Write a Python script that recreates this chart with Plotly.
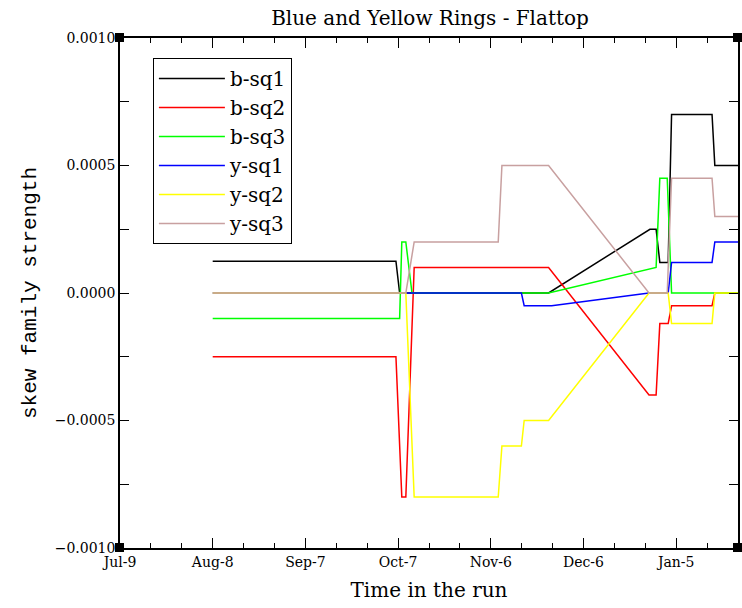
import plotly.graph_objects as go
import pandas as pd

BASE = pd.Timestamp("2005-07-09")

# day offsets from Jul-9 and values for each series
bsq1_d = [30, 89.3, 90.5, 138.7, 171.5, 173.5, 174.7, 177.4, 178.5, 191.6, 192.5, 200]
bsq1_v = [0.000125, 0.000125, 0, 0, 0.00025, 0.00025, 0.00012, 0.00012, 0.0007, 0.0007, 0.0005, 0.0005]

bsq2_d = [30, 89.3, 91.2, 92.5, 95.2, 138.7, 171.2, 173.5, 174.7, 177.4, 178.5, 191.6, 192.5, 200]
bsq2_v = [-0.00025, -0.00025, -0.0008, -0.0008, 0.0001, 0.0001, -0.0004, -0.0004, -0.00012, -0.00012, -0.00005, -0.00005, 0, 0]

bsq3_d = [30, 90.5, 91.2, 92.5, 94.5, 138.7, 173.5, 174.7, 177.1, 178.5, 200]
bsq3_v = [-0.0001, -0.0001, 0.0002, 0.0002, 0, 0, 0.0001, 0.00045, 0.00045, 0, 0]

ysq1_d = [30, 129.9, 130.8, 139.7, 171.2, 177.4, 178.5, 191.6, 192.5, 200]
ysq1_v = [0, 0, -0.00005, -0.00005, 0, 0, 0.00012, 0.00012, 0.0002, 0.0002]

ysq2_d = [30, 92.5, 95.2, 122.4, 123.6, 129.9, 130.8, 138.7, 171.2, 177.4, 178.5, 191.6, 192.5, 200]
ysq2_v = [0, 0, -0.0008, -0.0008, -0.0006, -0.0006, -0.0005, -0.0005, 0, 0, -0.00012, -0.00012, 0, 0]

ysq3_d = [30, 92.5, 95.2, 122.4, 123.6, 138.7, 171.2, 177.1, 178.5, 191.6, 192.5, 200]
ysq3_v = [0, 0, 0.0002, 0.0002, 0.0005, 0.0005, 0, 0, 0.00045, 0.00045, 0.0003, 0.0003]

names = ["b-sq1", "b-sq2", "b-sq3", "y-sq1", "y-sq2", "y-sq3"]
colors = ["#000000", "#ff0000", "#00ff00", "#0000ff", "#ffff00", "#c8a0a0"]
series = [(bsq1_d, bsq1_v), (bsq2_d, bsq2_v), (bsq3_d, bsq3_v),
          (ysq1_d, ysq1_v), (ysq2_d, ysq2_v), (ysq3_d, ysq3_v)]

def to_dates(days):
    return [BASE + pd.Timedelta(days=d) for d in days]

fig = go.Figure()
for i, (name, col, (d, v)) in enumerate(zip(names, colors, series)):
    fig.add_trace(go.Scatter(x=to_dates(d), y=v, mode="lines", name=name,
                             legendgroup=f"g{i}",
                             line=dict(color=col, width=1.5)))

DAY = 86400000
serif = "DejaVu Serif"
fig.update_layout(
    width=742, height=608,
    margin=dict(l=120, r=2, t=38, b=60),
    paper_bgcolor="white", plot_bgcolor="white",
    title=dict(text="Blue and Yellow Rings - Flattop", x=430/742, xanchor="center",
               y=1-18/608, yanchor="middle",
               font=dict(family=serif, size=20, color="black")),
    showlegend=True,
    legend=dict(x=(153-120)/620, y=(548-58)/510, xanchor="left", yanchor="top",
                bordercolor="black", borderwidth=1, bgcolor="white",
                font=dict(family=serif, size=20, color="black"),
                itemwidth=66,
                traceorder="grouped", tracegroupgap=0),
    xaxis=dict(
        type="date",
        range=[BASE, BASE + pd.Timedelta(days=200)],
        tick0=BASE, dtick=30*DAY, tickformat="%b-%-d",
        ticks="inside", ticklen=10, tickwidth=1, tickcolor="black",
        minor=dict(ticks="inside", ticklen=5, dtick=10*DAY, tick0=BASE, tickcolor="black"),
        showline=True, linecolor="black", linewidth=1.5, mirror="allticks",
        showgrid=False, zeroline=False,
        tickfont=dict(family=serif, size=14, color="black"),
        title=dict(text="Time in the run", font=dict(family=serif, size=20, color="black"), standoff=14),
    ),
    yaxis=dict(
        range=[-0.001, 0.001], dtick=0.0005, tick0=0, tickformat=".4f",
        ticks="inside", ticklen=9, tickwidth=1, tickcolor="black",
        minor=dict(ticks="inside", ticklen=9, dtick=0.00025, tickcolor="black"),
        showline=True, linecolor="black", linewidth=1.5, mirror="allticks",
        showgrid=False, zeroline=False,
        tickfont=dict(family=serif, size=14, color="black"),
        title=dict(text="skew family strength", font=dict(family="Liberation Mono", size=21, color="black"), standoff=12),
    ),
)

# corner markers
for xa, ya in [(0, 0), (1, 0), (0, 1), (1, 1)]:
    fig.add_shape(type="rect", xref="paper", yref="paper", xsizemode="pixel", ysizemode="pixel",
                  xanchor=xa, yanchor=ya, x0=-5, x1=4, y0=-4, y1=5,
                  fillcolor="black", line=dict(width=0))

fig.write_html("out.html")
